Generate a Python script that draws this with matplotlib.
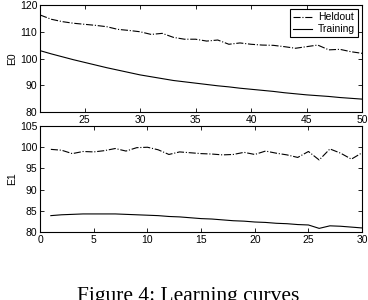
import matplotlib
matplotlib.use('Agg')
import matplotlib.pyplot as plt

plt.rcParams['font.family'] = ['Liberation Sans', 'DejaVu Sans']
plt.rcParams['font.size'] = 7.5
plt.rcParams['xtick.direction'] = 'in'
plt.rcParams['ytick.direction'] = 'in'
plt.rcParams['xtick.top'] = True
plt.rcParams['ytick.right'] = True

# ---------------- data ----------------
e0_iters = list(range(21, 51))
e0_heldout = [116.4, 114.8, 113.9, 113.3, 112.9, 112.5, 112.0, 111.0, 110.6, 110.1,
              109.1, 109.5, 108.0, 107.3, 107.3, 106.6, 107.0, 105.4, 105.9, 105.4,
              105.1, 105.0, 104.5, 103.9, 104.5, 105.1, 103.3, 103.5, 102.6, 102.0]
e0_training = [103.0, 101.8, 100.7, 99.6, 98.6, 97.6, 96.6, 95.7, 94.8, 93.9,
               93.2, 92.5, 91.8, 91.3, 90.8, 90.3, 89.8, 89.4, 88.9, 88.5,
               88.1, 87.7, 87.2, 86.8, 86.4, 86.1, 85.8, 85.4, 85.1, 84.8]

e1_iters = list(range(1, 31))
e1_heldout = [99.5, 99.3, 98.5, 99.0, 98.9, 99.2, 99.7, 99.1, 99.9, 100.0,
              99.4, 98.3, 98.9, 98.7, 98.5, 98.4, 98.2, 98.3, 98.8, 98.3,
              99.1, 98.6, 98.2, 97.6, 99.0, 97.0, 99.6, 98.6, 97.2, 98.7]
e1_training = [83.9, 84.1, 84.2, 84.3, 84.3, 84.3, 84.3, 84.2, 84.1, 84.0,
               83.9, 83.7, 83.6, 83.4, 83.2, 83.1, 82.9, 82.7, 82.6, 82.4,
               82.3, 82.1, 82.0, 81.8, 81.7, 80.9, 81.5, 81.4, 81.2, 81.0]

e0_yticks = [80, 90, 100, 110, 120]
e0_xticks = [25, 30, 35, 40, 45, 50]
e1_yticks = [80, 85, 90, 95, 100, 105]
e1_xticks = [0, 5, 10, 15, 20, 25, 30]

fig = plt.figure(figsize=(3.68, 3.0), dpi=100)

# top panel (E0)
ax0 = fig.add_axes([0.109, 0.627, 0.875, 0.355])
ax0.plot(e0_iters, e0_heldout, color='black', linestyle='-.', linewidth=0.8, label='Heldout')
ax0.plot(e0_iters, e0_training, color='black', linestyle='-', linewidth=0.8, label='Training')
ax0.set_xlim(e0_iters[0], e0_iters[-1])
ax0.set_ylim(80, 120)
ax0.set_xticks(e0_xticks)
ax0.set_yticks(e0_yticks)
ax0.set_ylabel('E0', labelpad=2)
leg = ax0.legend(loc='upper right', fancybox=False, edgecolor='black',
                 handlelength=1.8, handletextpad=0.6, borderpad=0.3,
                 labelspacing=0.2, borderaxespad=0.35, framealpha=1)
leg.get_frame().set_linewidth(0.8)

# bottom panel (E1)
ax1 = fig.add_axes([0.109, 0.226, 0.875, 0.354])
ax1.plot(e1_iters, e1_heldout, color='black', linestyle='-.', linewidth=0.8)
ax1.plot(e1_iters, e1_training, color='black', linestyle='-', linewidth=0.8)
ax1.set_xlim(0, 30)
ax1.set_ylim(80, 105)
ax1.set_xticks(e1_xticks)
ax1.set_yticks(e1_yticks)
ax1.set_ylabel('E1', labelpad=2)

for ax in (ax0, ax1):
    ax.tick_params(length=3, width=0.6, pad=2)
    for sp in ax.spines.values():
        sp.set_linewidth(0.8)

fig.text(0.511, 1 - 287.0 / 300, 'Figure 4: Learning curves', ha='center', va='top',
         fontsize=15.5, family=['Liberation Serif', 'DejaVu Serif'])

fig.savefig('out.png', dpi=100)
